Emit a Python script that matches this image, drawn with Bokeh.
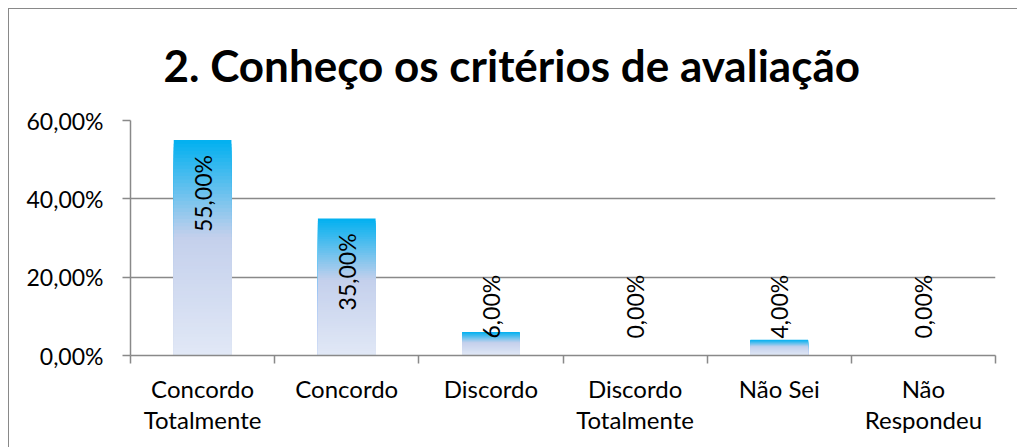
import numpy as np
from bokeh.plotting import figure
from bokeh.models import FixedTicker, CustomJSTickFormatter, ColumnDataSource, Range1d
from bokeh.embed import file_html
from bokeh.resources import INLINE
from bokeh.core.properties import value

# ---- data ----
chart_title = "2. Conheço os critérios de avaliação"
categories = ["Concordo\nTotalmente", "Concordo", "Discordo",
              "Discordo\nTotalmente", "Não Sei", "Não\nRespondeu"]
values = [0.55, 0.35, 0.06, 0.00, 0.04, 0.00]
y_ticks = [0.0, 0.2, 0.4, 0.6]

FONT = "Lato"
GREY = "#898989"
BAR_W = 0.4

n = len(categories)
xs = np.arange(n) + 0.5

p = figure(width=1009, height=439,
           x_range=Range1d(0, n), y_range=Range1d(0, 0.6),
           output_backend="svg", toolbar_location=None,
           min_border_left=121, min_border_right=23,
           min_border_top=111, min_border_bottom=93)
p.styles = {"margin-left": "8px", "margin-top": "8px",
            "border-top": "1px solid #898989", "border-left": "1px solid #898989"}
p.outline_line_color = None
p.background_fill_color = "white"
p.border_fill_color = "white"

# ---- gradient bars (slices from top colour to bottom colour) ----
stops = [(0.0, (0, 176, 240)), (0.45, (196, 208, 236)), (1.0, (225, 232, 246))]


def grad(t):
    for (t0, c0), (t1, c1) in zip(stops[:-1], stops[1:]):
        if t <= t1:
            f = (t - t0) / (t1 - t0)
            c = [round(a + (b - a) * f) for a, b in zip(c0, c1)]
            return "#%02x%02x%02x" % tuple(c)
    return "#%02x%02x%02x" % stops[-1][1]


N = 60
L, R, T, B, C = [], [], [], [], []
for x, v in zip(xs, values):
    if v <= 0:
        continue
    edges = np.linspace(v, 0, N + 1)
    for k in range(N):
        L.append(x - BAR_W / 2)
        R.append(x + BAR_W / 2)
        T.append(edges[k])
        B.append(0)
        C.append(grad((k + 0.5) / N))
p.quad(left=L, right=R, top=T, bottom=B, fill_color=C, line_color=None)

# ---- value labels ----
inside = [v >= 0.25 for v in values]
lab_src = ColumnDataSource(dict(
    x=xs,
    y=[v if ins else 0 for v, ins in zip(values, inside)],
    text=[f"{v*100:.2f}%".replace(".", ",") for v in values],
    align=["right" if ins else "left" for ins in inside],
    yoff=[15 if ins else -17 for ins in inside],
))
p.text(x="x", y="y", text="text", source=lab_src, angle=np.pi / 2,
       text_align="align", text_baseline="middle", y_offset="yoff",
       text_font=value(FONT), text_font_size="23px", text_color="black")

# ---- grid ----
p.xgrid.grid_line_color = None
p.ygrid.ticker = FixedTicker(ticks=y_ticks)
p.ygrid.grid_line_color = GREY
p.ygrid.grid_line_width = 1.5

# ---- y axis ----
p.yaxis.ticker = FixedTicker(ticks=y_ticks)
p.yaxis.formatter = CustomJSTickFormatter(
    code="return (tick*100).toFixed(2).replace('.', ',') + '%';")
p.yaxis.axis_line_color = GREY
p.yaxis.axis_line_width = 1.5
p.yaxis.major_tick_line_color = GREY
p.yaxis.major_tick_line_width = 1.5
p.yaxis.major_tick_out = 8
p.yaxis.major_tick_in = 0
p.yaxis.minor_tick_line_color = None
p.yaxis.major_label_standoff = 19
p.yaxis.major_label_text_font = FONT
p.yaxis.major_label_text_font_size = "23px"
p.yaxis.major_label_text_color = "black"

# ---- x axis ----
p.xaxis.ticker = FixedTicker(ticks=list(xs), minor_ticks=list(range(n + 1)))
p.xaxis.major_label_overrides = {float(x): c for x, c in zip(xs, categories)}
p.xaxis.axis_line_color = GREY
p.xaxis.axis_line_width = 1.5
p.xaxis.major_tick_line_color = None
p.xaxis.major_tick_out = 0
p.xaxis.major_tick_in = 0
p.xaxis.minor_tick_line_color = GREY
p.xaxis.minor_tick_line_width = 1.5
p.xaxis.minor_tick_out = 8
p.xaxis.minor_tick_in = 0
p.xaxis.major_label_standoff = 10
p.xaxis.major_label_text_font = FONT
p.xaxis.major_label_text_font_size = "24px"
p.xaxis.major_label_text_color = "black"
p.xaxis.major_label_text_line_height = 1.1

# ---- title ----
p.title.text = chart_title
p.title.text_font = FONT
p.title.text_font_style = "bold"
p.title.text_font_size = "44px"
p.title.text_color = "black"
p.title.align = "left"
p.title.offset = 33
p.title.vertical_align = "top"
p.title.standoff = 56

open("out.html", "w").write(file_html(p, INLINE))
